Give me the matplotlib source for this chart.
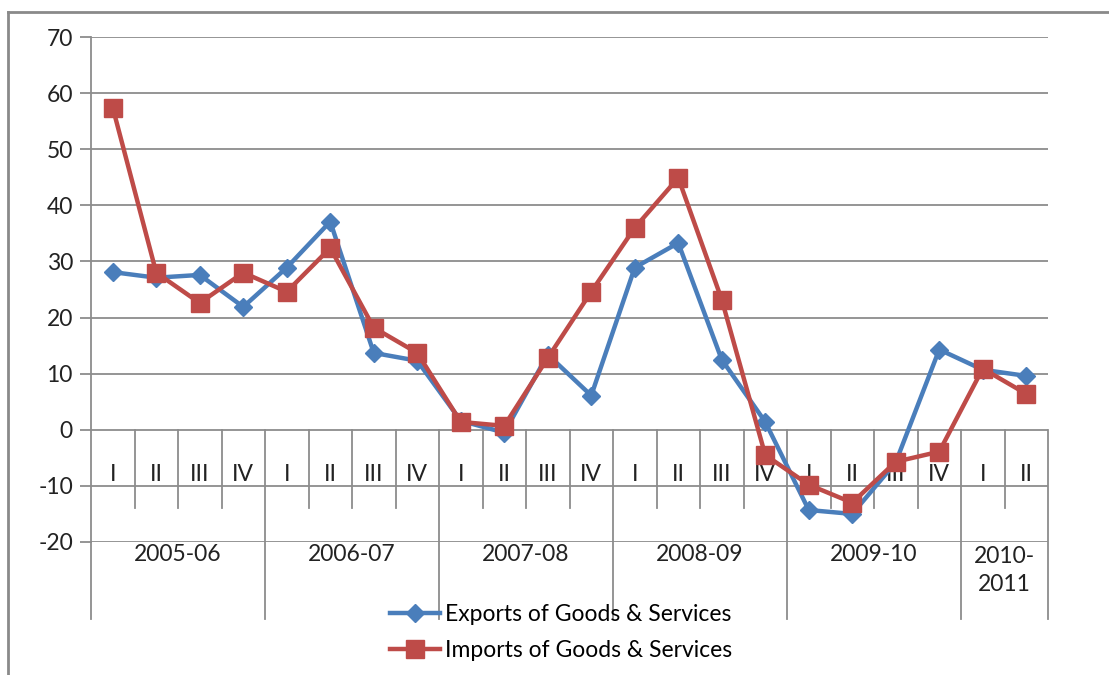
import matplotlib
matplotlib.use("Agg")
import matplotlib.pyplot as plt
from matplotlib.lines import Line2D

plt.rcParams['font.family'] = ['Lato', 'DejaVu Sans']
plt.rcParams['axes.unicode_minus'] = False

quarters = ["I", "II", "III", "IV", "I", "II", "III", "IV", "I", "II", "III", "IV",
            "I", "II", "III", "IV", "I", "II", "III", "IV", "I", "II"]
years = ["2005-06", "2006-07", "2007-08", "2008-09", "2009-10", "2010-\n2011"]
year_sizes = [4, 4, 4, 4, 4, 2]

exports = [28.1, 27.1, 27.6, 21.9, 28.9, 37.1, 13.7, 12.3, 1.6, -0.5, 13.4, 6.1,
           28.9, 33.3, 12.5, 1.4, -14.3, -15.0, -5.8, 14.3, 10.7, 9.6]
imports = [57.4, 28.0, 22.6, 28.0, 24.6, 32.4, 18.2, 13.7, 1.4, 0.7, 12.8, 24.6,
           36.0, 44.9, 23.2, -4.5, -9.8, -13.0, -5.7, -3.9, 10.9, 6.4]

BLUE = "#4A7EBB"
RED = "#BE4B48"
GRID = "#8C8C8C"
FS = 16.5

W, H = 1109, 675
fig = plt.figure(figsize=(W / 100, H / 100), dpi=100)
ax = fig.add_axes([91 / W, 1 - 542 / H, (1048 - 91) / W, (542 - 37) / H])

x = list(range(len(quarters)))
l1, = ax.plot(x, exports, color=BLUE, lw=3.2, marker="D", ms=9, zorder=3,
              label="Exports of Goods & Services")
l2, = ax.plot(x, imports, color=RED, lw=3.2, marker="s", ms=12.5, zorder=4,
              label="Imports of Goods & Services")

ax.set_xlim(-0.5, len(quarters) - 0.5)
ax.set_ylim(-20, 70)
ax.set_yticks(range(-20, 71, 10))
ax.yaxis.grid(True, color=GRID, lw=1.3)
ax.set_axisbelow(True)
ax.set_xticks([])
for s in ["top", "right", "bottom"]:
    ax.spines[s].set_visible(False)
ax.spines["left"].set_color(GRID)
ax.spines["left"].set_linewidth(1.3)
ax.tick_params(axis="y", length=8, color=GRID, width=1.3, labelsize=FS, pad=5,
               labelcolor="#222222")

# category axis (multi-level)
q_bottom = -13.9
y_bottom = -33.8
ax.plot([-0.5, -0.5], [-20, y_bottom], color=GRID, lw=1.3, clip_on=False, zorder=1)
ax.plot([len(quarters) - 0.5] * 2, [0, y_bottom], color=GRID, lw=1.3, clip_on=False, zorder=1)
year_bounds = []
acc = 0
for n in year_sizes[:-1]:
    acc += n
    year_bounds.append(acc)
for k in range(1, len(quarters)):
    bottom = y_bottom if k in year_bounds else q_bottom
    ax.plot([k - 0.5, k - 0.5], [0, bottom], color=GRID, lw=1.3, clip_on=False, zorder=1)
for i, q in enumerate(quarters):
    ax.text(i, -8.0, q, ha="center", va="center", fontsize=FS, color="#222222", zorder=2)
start = 0
for yl, n in zip(years, year_sizes):
    cx = start + (n - 1) / 2
    cy = -22.3 if "\n" not in yl else -25.1
    ax.text(cx, cy, yl, ha="center", va="center", fontsize=FS, color="#222222",
            linespacing=1.4, clip_on=False)
    start += n

fig.legend(handles=[l1, l2], loc="upper left", bbox_to_anchor=(390 / W, 1 - 604 / H),
           frameon=False, fontsize=FS, handlelength=2.2, handletextpad=0.2,
           labelspacing=0.65, borderaxespad=0, borderpad=0)

# outer frame
fig.add_artist(Line2D([8 / W, 8 / W], [0, 1 - 12 / H], color="#8A8A8A", lw=2,
                      transform=fig.transFigure))
fig.add_artist(Line2D([8 / W, 1], [1 - 12 / H, 1 - 12 / H], color="#8A8A8A", lw=2,
                      transform=fig.transFigure))

fig.savefig("out.png", dpi=100)
